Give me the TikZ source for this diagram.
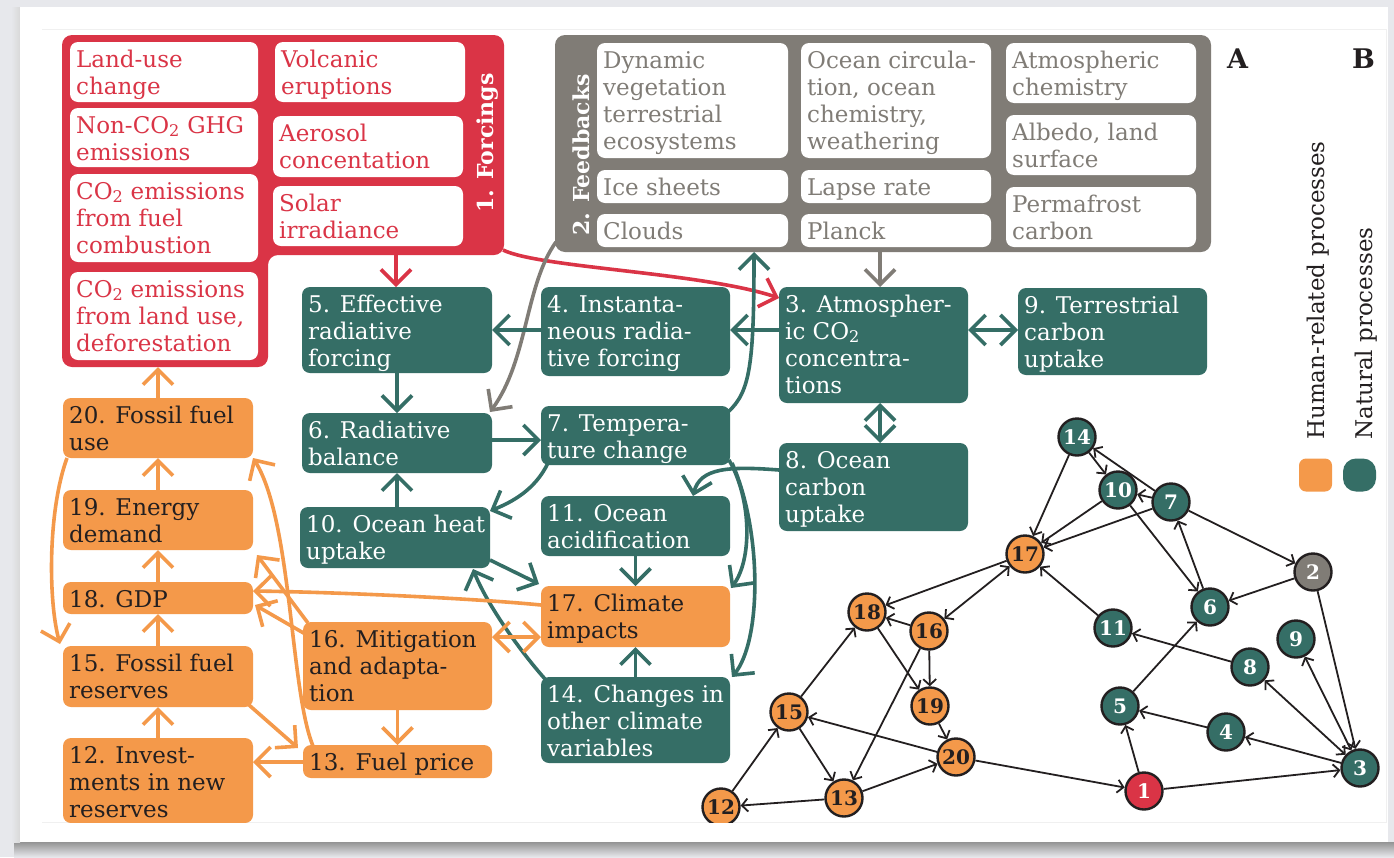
\documentclass[tikz,border=0pt]{standalone}
\usepackage{fontspec}
\setmainfont{DejaVu Serif}
\usetikzlibrary{arrows.meta,calc}
\definecolor{fred}{HTML}{DA3446}
\definecolor{fteal}{HTML}{356E66}
\definecolor{forange}{HTML}{F4994A}
\definecolor{fgray}{HTML}{807C76}
\definecolor{fdark}{HTML}{231F20}
\definecolor{bgray}{HTML}{E7E8EC}
\tikzset{
  boxbase/.style={anchor=north west, inner sep=0pt, outer sep=0pt, rounded corners=8pt},
  tealbox/.style={boxbase, fill=fteal},
  orbox/.style={boxbase, fill=forange},
  whbox/.style={boxbase, fill=white},
  boxtext/.style={anchor=north west, inner sep=0pt, align=left, font=\fontsize{23}{27}\selectfont},
  conn/.style={line width=3.6pt, -{Straight Barb[length=15pt,width=30pt]}},
  conntwo/.style={line width=3.6pt, {Straight Barb[length=15pt,width=30pt]}-{Straight Barb[length=15pt,width=30pt]}},
  rconn/.style={conn, draw=fred},
  grconn/.style={conn, draw=fgray},
  gconn/.style={conn, draw=fteal},
  gconntwo/.style={conntwo, draw=fteal},
  oconn/.style={conn, draw=forange},
  oconntwo/.style={conntwo, draw=forange},
  gn/.style={circle, draw=fdark, line width=2.4pt, minimum size=37pt, inner sep=0pt, font=\bfseries\fontsize{20}{20}\selectfont},
  gteal/.style={gn, fill=fteal, text=white},
  gor/.style={gn, fill=forange, text=fdark},
  gred/.style={gn, fill=fred, text=white},
  ggray/.style={gn, fill=fgray, text=white},
  ge/.style={draw=fdark, line width=1.8pt, -{Straight Barb[length=6pt,width=13pt]}},
  getwo/.style={draw=fdark, line width=1.8pt, {Straight Barb[length=6pt,width=13pt]}-{Straight Barb[length=6pt,width=13pt]}},
  rotlabel/.style={rotate=90, anchor=base west, inner sep=0pt, font=\bfseries\fontsize{22}{22}\selectfont, text=white},
}
% #1 box style, #2 text style, #3 name, #4 x1, #5 y1, #6 x2, #7 y2, #8 text
\newcommand\mybox[8]{%
  \node[#1, minimum width={#6-#4}, minimum height={#7-#5}] (#3) at (#4,#5) {};
  \node[boxtext, #2] (#3t) at ($(#3.north west)+(6,5)$) {\rule{0pt}{20pt}#8};}
\begin{document}
\begin{tikzpicture}[x=1pt,y=-1pt]
\useasboundingbox (0,0) rectangle (1394,857);
% page frame
\fill[bgray] (0,0) rectangle (1394,857);
\shade[top color=black!42, bottom color=bgray] (14,842) rectangle (1394,857);
\shade[left color=bgray, right color=black!15] (11,7) rectangle (20,842);
\fill[white] (20,7) rectangle (1388,842);
\draw[line width=1pt, black!6] (42,29) -- (1386,29) -- (1386,822) -- (42,822);
\begin{scope}
\clip (20,7) rectangle (1388,822);
% ---------- Forcings panel
\fill[fred, rounded corners=10pt] (62,35) -- (504,35) -- (504,255) -- (268,255) -- (268,367) -- (62,367) -- cycle;
\mybox{whbox}{text=fred}{f1}{70}{42}{258}{102}{Land-use\\change}
\mybox{whbox}{text=fred}{f2}{70}{108}{258}{167}{Non-CO\textsubscript{2} GHG\\emissions}
\mybox{whbox}{text=fred}{f3}{70}{174}{258}{262}{CO\textsubscript{2} emissions\\from fuel\\combustion}
\mybox{whbox}{text=fred}{f4}{70}{272}{258}{360}{CO\textsubscript{2} emissions\\from land use,\\deforestation}
\mybox{whbox}{text=fred}{f5}{275}{42}{465}{102}{Volcanic\\eruptions}
\mybox{whbox}{text=fred}{f6}{273}{116}{463}{177}{Aerosol\\concentation}
\mybox{whbox}{text=fred}{f7}{273}{186}{463}{246}{Solar\\irradiance}
\node[rotlabel] (forclab) at (493,213) {1. Forcings};
% ---------- Feedbacks panel
\fill[fgray, rounded corners=10pt] (555,35) rectangle (1211,252);
\mybox{whbox}{text=fgray}{b1}{597}{43}{788}{158}{Dynamic\\vegetation\\terrestrial\\ecosystems}
\mybox{whbox}{text=fgray}{b2}{597}{170}{788}{203}{Ice sheets}
\mybox{whbox}{text=fgray}{b3}{597}{214}{788}{247}{Clouds}
\mybox{whbox}{text=fgray}{b4}{801}{43}{991}{158}{Ocean circula-\\tion, ocean\\chemistry,\\weathering}
\mybox{whbox}{text=fgray}{b5}{801}{170}{991}{203}{Lapse rate}
\mybox{whbox}{text=fgray}{b6}{801}{214}{991}{247}{Planck}
\mybox{whbox}{text=fgray}{b7}{1006}{43}{1196}{103}{Atmospheric\\chemistry}
\mybox{whbox}{text=fgray}{b8}{1006}{115}{1196}{175}{Albedo, land\\surface}
\mybox{whbox}{text=fgray}{b9}{1006}{187}{1196}{247}{Permafrost\\carbon}
\node[rotlabel] (fblab) at (589,236) {2. Feedbacks};
% ---------- process boxes
\mybox{tealbox}{text=white}{n5}{302}{287}{492}{373}{5. Effective\\radiative\\forcing}
\mybox{tealbox}{text=white}{n4}{541}{287}{730}{376}{4. Instanta-\\neous radia-\\tive forcing}
\mybox{tealbox}{text=white}{n3}{779}{287}{968}{403}{3. Atmospher-\\ic CO\textsubscript{2}\\concentra-\\tions}
\mybox{tealbox}{text=white}{n9}{1018}{288}{1207}{375}{9. Terrestrial\\carbon\\uptake}
\mybox{tealbox}{text=white}{n6}{302}{413}{492}{473}{6. Radiative\\balance}
\mybox{tealbox}{text=white}{n7}{541}{406}{730}{465}{7. Tempera-\\ture change}
\mybox{tealbox}{text=white}{n8}{779}{443}{968}{531}{8. Ocean\\carbon\\uptake}
\mybox{tealbox}{text=white}{n10}{300}{507}{490}{568}{10. Ocean heat\\uptake}
\mybox{tealbox}{text=white}{n11}{541}{496}{730}{556}{11. Ocean\\acidification}
\mybox{orbox}{text=fdark}{n17}{541}{586}{730}{647}{17. Climate\\impacts}
\mybox{tealbox}{text=white}{n14}{541}{677}{730}{763}{14. Changes in\\other climate\\variables}
\mybox{orbox}{text=fdark}{n20}{63}{398}{253}{458}{20. Fossil fuel\\use}
\mybox{orbox}{text=fdark}{n19}{63}{490}{253}{550}{19. Energy\\demand}
\mybox{orbox}{text=fdark}{n18}{63}{582}{253}{614}{18. GDP}
\mybox{orbox}{text=fdark}{n15}{63}{646}{253}{707}{15. Fossil fuel\\reserves}
\mybox{orbox}{text=fdark}{n12}{63}{738}{253}{823}{12. Invest-\\ments in new\\reserves}
\mybox{orbox}{text=fdark}{n16}{303}{622}{492}{710}{16. Mitigation\\and adapta-\\tion}
\mybox{orbox}{text=fdark}{n13}{303}{745}{492}{778}{13. Fuel price}
% ---------- connectors, panel A
\coordinate (forcA) at (396,255);
\coordinate (forcB) at (503,250);
\coordinate (forcC) at (158,367);
\coordinate (fbA) at (880,252);
\coordinate (fbB) at (556,242);
\coordinate (fbC) at (754,252);
\draw[rconn] (forcA) -- (forcA |- n5.north);
\draw[rconn] (forcB) .. controls (540,268) and (700,272) .. ($(n3.north west)+(0,11)$);
\draw[grconn] (fbA) -- (fbA |- n3.north);
\draw[grconn] (fbB) .. controls (525,285) and (528,360) .. ($(n6.north east)+(-2,-1)$);
\draw[gconn] ($(n3.north west)+(0,43)$) -- ($(n4.north east)+(0,43)$);
\draw[gconn] ($(n4.north west)+(0,43)$) -- ($(n5.north east)+(0,43)$);
\draw[gconntwo] ($(n3.north east)+(0,43)$) -- ($(n9.north west)+(0,42)$);
\draw[gconntwo] ($(n3.south west)+(101,0)$) -- ($(n8.north west)+(101,0)$);
\draw[gconn] (n5.south) -- (n6.north);
\draw[gconn] (n6.south |- n10.north) -- (n6.south);
\draw[gconn] ($(n6.north east)+(0,27)$) -- ($(n7.north west)+(0,34)$);
\draw[gconn] ($(n7.north east)+(-2,6)$) .. controls (750,392) and (754,365) .. (fbC);
\draw[gconn] ($(n7.south west)+(7,-2)$) .. controls (535,490) and (512,502) .. ($(n10.north east)+(0,4)$);
\draw[gconn] ($(n8.north west)+(0,27)$) .. controls (728,466) and (700,468) .. ($(n11.north west)+(152,0)$);
\draw[gconn] ($(n7.south east)+(-1,-5)$) .. controls (752,500) and (752,560) .. ($(n17.north east)+(1,2)$);
\draw[gconn] ($(n7.south east)+(2,-2)$) .. controls (762,530) and (762,640) .. ($(n14.north east)+(2,0)$);
\draw[gconn] (n11.south) -- (n17.north);
\draw[gconn] (n14.north) -- (n17.south);
\draw[gconn] ($(n10.south east)+(0,-8)$) -- ($(n17.north west)+(-2,-2)$);
\draw[gconn] ($(n14.north west)+(4,2)$) .. controls (515,645) and (485,600) .. ($(n10.south east)+(-17,1)$);
\draw[oconn] (n20.north) -- (forcC);
\draw[oconn] (n19.north) -- (n20.south);
\draw[oconn] (n18.north) -- (n19.south);
\draw[oconn] (n15.north) -- (n18.south);
\draw[oconn] (n12.north) -- (n15.south);
\draw[oconn] (n16.south) -- (n13.north);
\draw[oconn] ($(n13.north west)+(0,17)$) -- ($(n12.north east)+(0,24)$);
\draw[oconn] ($(n15.south east)+(-4,-2)$) -- ($(n13.north west)+(-5,3)$);
\draw[oconn] ($(n13.north west)+(10,1)$) .. controls (290,690) and (292,520) .. (n20.south east);
\draw[oconn] ($(n16.north west)+(5,1)$) -- ($(n19.south east)+(4,5)$);
\draw[oconn] ($(n16.north west)+(4,13)$) -- ($(n18.north east)+(2,23)$);
\draw[oconn] ($(n17.north west)+(0,19)$) .. controls (470,598) and (330,592) .. ($(n18.north east)+(0,9)$);
\draw[oconntwo] ($(n16.north east)+(0,15)$) -- ($(n17.north west)+(0,51)$);
\draw[oconn] ($(n20.south west)+(4,0)$) .. controls (48,510) and (48,600) .. ($(n15.north west)+(-3,-2)$);
% ---------- labels and legend
\node[anchor=base west, inner sep=0pt, font=\bfseries\fontsize{27}{27}\selectfont, text=fdark] (labA) at (1227,68) {A};
\node[anchor=base west, inner sep=0pt, font=\bfseries\fontsize{27}{27}\selectfont, text=fdark] (labB) at (1352,68) {B};
\node[rotate=90, anchor=base west, inner sep=0pt, text=fdark, font=\fontsize{23}{27}\selectfont] (legh) at (1324,440) {Human-related processes};
\node[rotate=90, anchor=base west, inner sep=0pt, text=fdark, font=\fontsize{23}{27}\selectfont] (legn) at (1372,440) {Natural processes};
\node[fill=forange, rounded corners=7pt, minimum size=33pt, inner sep=0pt] (lego) at (1315.5,475) {};
\node[fill=fteal, rounded corners=13pt, minimum size=33pt, inner sep=0pt] (legt) at (1359.5,475) {};
% ---------- panel B graph
\node[gteal] (b14) at (1077,437) {14};
\node[gteal] (b10) at (1118,490) {10};
\node[gteal] (b7) at (1171,502) {7};
\node[gor] (b17) at (1025,554) {17};
\node[ggray] (b2) at (1313,572) {2};
\node[gor] (b18) at (867,612) {18};
\node[gor] (b16) at (929,631) {16};
\node[gteal] (b6) at (1210,607) {6};
\node[gteal] (b11) at (1113,628) {11};
\node[gteal] (b9) at (1296,639) {9};
\node[gteal] (b8) at (1250,667) {8};
\node[gor] (b15) at (789,712) {15};
\node[gor] (b19) at (930,706) {19};
\node[gteal] (b5) at (1120,706) {5};
\node[gteal] (b4) at (1226,732) {4};
\node[gor] (b20) at (956,757) {20};
\node[gteal] (b3) at (1360,768) {3};
\node[gred] (b1) at (1144,791) {1};
\node[gor] (b13) at (844,798) {13};
\node[gor] (b12) at (721,807) {12};
\draw[ge] (b14) -- (b17);
\draw[ge] (b14) -- (b10);
\draw[ge] (b7) -- (b14);
\draw[ge] (b7) -- (b10);
\draw[ge] (b10) -- (b17);
\draw[ge] (b7) -- (b17);
\draw[ge] (b10) -- (b6);
\draw[ge] (b6) -- (b7);
\draw[ge] (b7) -- (b2);
\draw[ge] (b2) -- (b6);
\draw[ge] (b2) -- (b3);
\draw[ge] (b11) -- (b17);
\draw[ge] (b8) -- (b11);
\draw[ge] (b5) -- (b6);
\draw[getwo] (b3) -- (b8);
\draw[getwo] (b3) -- (b9);
\draw[ge] (b4) -- (b5);
\draw[ge] (b3) -- (b4);
\draw[ge] (b1) -- (b5);
\draw[ge] (b1) -- (b3);
\draw[ge] (b20) -- (b1);
\draw[ge] (b20) -- (b15);
\draw[ge] (b19) -- (b20);
\draw[ge] (b13) -- (b20);
\draw[ge] (b16) -- (b19);
\draw[ge] (b18) -- (b19);
\draw[ge] (b16) -- (b18);
\draw[ge] (b17) -- (b18);
\draw[getwo] (b17) -- (b16);
\draw[ge] (b15) -- (b18);
\draw[ge] (b15) -- (b13);
\draw[ge] (b16) -- (b13);
\draw[ge] (b12) -- (b15);
\draw[ge] (b13) -- (b12);
\end{scope}
\end{tikzpicture}
\end{document}
